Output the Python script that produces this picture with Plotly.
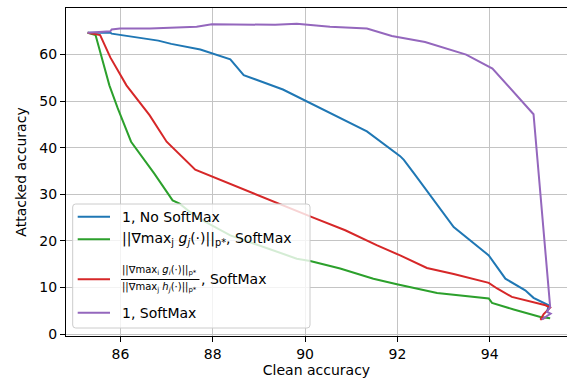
import plotly.graph_objects as go

# ---------------- data ----------------
nosoft_x = [85.29, 85.78, 85.81, 86.82, 87.10, 87.73, 88.38, 88.67, 89.52, 90.04,
            91.34, 92.06, 92.14, 92.36, 93.22, 93.98, 94.34, 94.77, 94.95, 95.28, 95.24]
nosoft_y = [64.7, 64.7, 64.5, 63.0, 62.3, 61.1, 59.0, 55.6, 52.5, 49.9,
            43.5, 38.2, 37.4, 34.5, 23.0, 16.9, 11.9, 9.4, 7.8, 6.2, 4.7]

gnorm_x = [85.29, 85.46, 85.76, 85.94, 86.23, 86.73, 87.13, 87.28, 87.65, 88.38,
           89.82, 90.11, 90.76, 91.48, 91.99, 92.86, 93.98, 94.05, 94.52, 95.10, 95.31]
gnorm_y = [64.7, 64.2, 53.4, 48.5, 41.3, 34.5, 28.7, 28.0, 25.1, 21.2,
           16.2, 15.7, 14.1, 11.9, 10.7, 8.85, 7.65, 6.7, 5.3, 3.7, 3.4]

ratio_x = [85.29, 85.56, 85.78, 86.13, 86.63, 87.00, 87.62, 88.01, 89.31, 90.15,
           90.87, 91.55, 92.06, 92.64, 93.22, 93.98, 94.16, 94.48, 95.21, 95.31,
           95.17, 95.10, 95.20]
ratio_y = [64.7, 64.2, 59.4, 53.4, 47.0, 41.3, 35.3, 33.7, 28.4, 25.1,
           22.3, 19.1, 16.9, 14.2, 12.9, 11.0, 9.8, 8.0, 6.2, 5.7,
           4.3, 3.15, 3.5]

soft_x = [85.29, 85.78, 85.81, 85.99, 86.64, 87.65, 87.98, 89.03, 89.35, 89.82,
          90.54, 91.34, 91.88, 92.60, 93.49, 94.06, 94.95, 95.31, 95.24, 95.32,
          95.13, 95.20]
soft_y = [64.7, 65.0, 65.4, 65.6, 65.6, 66.0, 66.5, 66.5, 66.4, 66.6,
          66.0, 65.6, 64.0, 62.7, 60.0, 57.0, 47.2, 5.85, 4.8, 4.4,
          3.15, 3.6]

x_ticks = [86, 88, 90, 92, 94]
y_ticks = [0, 10, 20, 30, 40, 50, 60]

names = [
    "1, No SoftMax",
    "||∇max<sub>j</sub><i>g<sub>j</sub></i>(·)||<sub>p*</sub>, SoftMax",
    "||∇max<sub>i</sub><i>g<sub>i</sub></i>(·)||<sub>p*</sub> / ||∇max<sub>j</sub><i>h<sub>j</sub></i>(·)||<sub>p*</sub>, SoftMax",
    "1, SoftMax",
]
colors = ["#1f77b4", "#2ca02c", "#d62728", "#9467bd"]

# ---------------- figure ----------------
W, H = 567, 379
ML, MR, MT, MB = 66, 0, 8, 43
PW, PH = W - ML - MR, H - MT - MB
FONT = "DejaVu Sans"


def px2x(px):
    return (px - ML) / PW


def py2y(py):
    return (H - MB - py) / PH


fig = go.Figure()
series = [(nosoft_x, nosoft_y), (gnorm_x, gnorm_y), (ratio_x, ratio_y), (soft_x, soft_y)]
for (xs, ys), nm, c in zip(series, names, colors):
    fig.add_trace(go.Scatter(x=xs, y=ys, mode="lines", name=nm, showlegend=False,
                             line=dict(color=c, width=2)))

# ----- custom legend (matplotlib-like, with stacked fraction) -----
x0, x1, y0, y1 = 72.7, 310, 204, 328
rx, ry = 3 / PW, 3 / PH
X0, X1, Y0, Y1 = px2x(x0), px2x(x1), py2y(y0), py2y(y1)
path = (f"M{X0+rx},{Y0} L{X1-rx},{Y0} Q{X1},{Y0} {X1},{Y0-ry} "
        f"L{X1},{Y1+ry} Q{X1},{Y1} {X1-rx},{Y1} L{X0+rx},{Y1} Q{X0},{Y1} {X0},{Y1+ry} "
        f"L{X0},{Y0-ry} Q{X0},{Y0} {X0+rx},{Y0} Z")
shapes = [dict(type="path", xref="paper", yref="paper", path=path, layer="above",
               fillcolor="rgba(255,255,255,0.8)", line=dict(color="#cccccc", width=1))]
row_y = [216.7, 239.3, 279.3, 312.7]
for c, ry_ in zip(colors, row_y):
    shapes.append(dict(type="line", xref="paper", yref="paper", layer="above",
                       x0=px2x(77.7), x1=px2x(110), y0=py2y(ry_), y1=py2y(ry_),
                       line=dict(color=c, width=2)))
# fraction bar
shapes.append(dict(type="line", xref="paper", yref="paper", layer="above",
                   x0=px2x(121), x1=px2x(199.5), y0=py2y(279.5), y1=py2y(279.5),
                   line=dict(color="black", width=1)))

TX = px2x(120)
ann = [
    dict(text="1, No SoftMax", x=TX, y=py2y(216.5), size=14),
    dict(text="||∇max<sub>j</sub> <i>g<sub>j</sub></i>(·)||<sub>p*</sub>, SoftMax", x=TX, y=py2y(239), size=14),
    dict(text="||∇max<sub>i</sub> <i>g<sub>i</sub></i>(·)||<sub>p*</sub>", x=TX, y=py2y(270), size=10),
    dict(text="||∇max<sub>j</sub> <i>h<sub>j</sub></i>(·)||<sub>p*</sub>", x=TX, y=py2y(287), size=10),
    dict(text=", SoftMax", x=px2x(199), y=py2y(278.5), size=14),
    dict(text="1, SoftMax", x=TX, y=py2y(312.5), size=14),
]
annotations = [dict(text=a["text"], x=a["x"], y=a["y"], xref="paper", yref="paper",
                    xanchor="left", yanchor="middle", showarrow=False,
                    font=dict(family=FONT, size=a["size"], color="black"))
               for a in ann]

fig.update_layout(
    width=W, height=H,
    margin=dict(l=ML, r=MR, t=MT, b=MB, pad=0, autoexpand=False),
    paper_bgcolor="white", plot_bgcolor="white",
    font=dict(family=FONT, size=14, color="black"),
    shapes=shapes, annotations=annotations,
    showlegend=False,
)
fig.update_xaxes(
    range=[84.82, 95.675], tickvals=x_ticks, ticktext=[str(v) for v in x_ticks],
    ticks="outside", ticklen=5, tickwidth=1, tickcolor="black",
    showline=True, linecolor="black", linewidth=1, mirror=True,
    showgrid=True, gridcolor="#c4c4c4", gridwidth=1, zeroline=False,
    automargin=False,
    title=dict(text="Clean accuracy", standoff=3, font=dict(size=14)),
    tickfont=dict(size=14),
)
fig.update_yaxes(
    range=[-0.4, 70.0], tickvals=y_ticks, ticktext=[str(v) for v in y_ticks],
    ticks="outside", ticklen=5, tickwidth=1, tickcolor="black",
    showline=True, linecolor="black", linewidth=1, mirror=False,
    showgrid=True, gridcolor="#c4c4c4", gridwidth=1, zeroline=False,
    automargin=False,
    title=dict(text="Attacked accuracy", standoff=9, font=dict(size=14)),
    tickfont=dict(size=14),
)

fig.write_html("out.html", config={"displayModeBar": False},
               post_script="document.body.style.margin='0';document.body.style.overflow='hidden';")
